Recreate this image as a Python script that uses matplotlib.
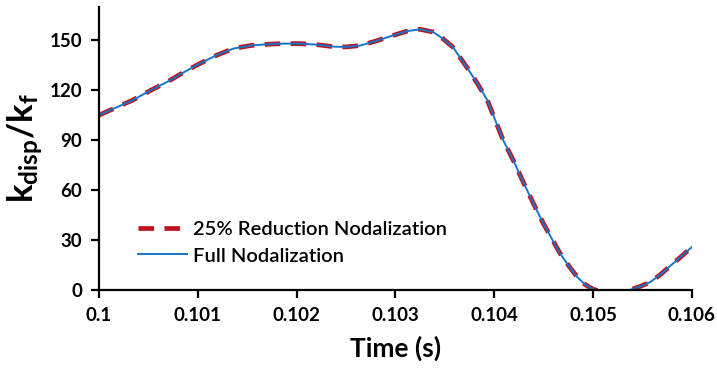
import matplotlib
matplotlib.use("Agg")
import matplotlib.pyplot as plt
from matplotlib.ticker import FixedLocator

plt.rcParams["font.family"] = ["Lato", "DejaVu Sans"]
plt.rcParams["mathtext.fontset"] = "custom"
plt.rcParams["mathtext.rm"] = "Lato:bold"
plt.rcParams["mathtext.bf"] = "Lato:bold"
plt.rcParams["mathtext.it"] = "Lato:bold"

# values
time_s = [0.1000, 0.10017, 0.10034, 0.10051, 0.10069, 0.10085, 0.10102, 0.10119,
          0.10136, 0.10153, 0.1017, 0.10186, 0.10203, 0.1022, 0.10237, 0.1025,
          0.10264, 0.1028, 0.10298, 0.10312, 0.10325, 0.10338, 0.10348, 0.10358,
          0.10372, 0.10383, 0.10393, 0.10401, 0.10409, 0.1042, 0.1043, 0.1044,
          0.1045, 0.10459, 0.10467, 0.10476, 0.10484, 0.10492, 0.105, 0.1051,
          0.1052, 0.1053, 0.10537, 0.10548, 0.10558, 0.10568, 0.10578, 0.10589, 0.106]
reduced = [105, 109.5, 114, 119.5, 125, 130.5, 136, 141, 145, 146.8, 147.6, 148, 148,
           147.4, 146.2, 146, 146.8, 149.5, 153, 155.5, 156.6, 155, 151, 146,
           134, 124, 114, 102, 90, 77, 64, 51.5, 39.6, 30, 21.6, 14, 7.8, 3.2, 0.5,
           -1.5, -2.2, -1.5, 0, 2.2, 4.8, 9.2, 14.4, 20, 25.8]
full = list(reduced)

fig = plt.figure(figsize=(7.17, 3.68), dpi=100)
ax = fig.add_axes([0.138, 0.212, 0.827, 0.769])

ax.plot(time_s, reduced, color="#C0141C", lw=3.4, dashes=(3.3, 2.2),
        label="25% Reduction Nodalization", solid_capstyle="butt")
ax.plot(time_s, full, color="#1675C8", lw=1.4, label="Full Nodalization")

ax.set_xlim(0.1, 0.106)
ax.set_ylim(0, 170)
ax.xaxis.set_major_locator(FixedLocator([0.1, 0.101, 0.102, 0.103, 0.104, 0.105, 0.106]))
ax.yaxis.set_major_locator(FixedLocator([0, 30, 60, 90, 120, 150]))
ax.set_xticklabels(["0.1", "0.101", "0.102", "0.103", "0.104", "0.105", "0.106"])

for s in ("top", "right"):
    ax.spines[s].set_visible(False)
for s in ("left", "bottom"):
    ax.spines[s].set_linewidth(1.6)
    ax.spines[s].set_color("black")
ax.tick_params(axis="both", direction="out", length=6, width=1.6,
               labelsize=13.5, pad=6)
for lab in ax.get_xticklabels() + ax.get_yticklabels():
    lab.set_fontweight("bold")

ax.set_xlabel("Time (s)", fontsize=19, fontweight="bold", labelpad=9)
ax.set_ylabel(r"$\mathrm{k_{disp}/k_f}$", fontsize=25, labelpad=3)

leg = ax.legend(loc="lower left", bbox_to_anchor=(0.066, 0.09), frameon=False,
                borderpad=0, borderaxespad=0,
                prop={"size": 14.5, "weight": "semibold"},
                handlelength=2.45, handletextpad=0.3, labelspacing=0.45)

fig.savefig("out.png", dpi=100)
